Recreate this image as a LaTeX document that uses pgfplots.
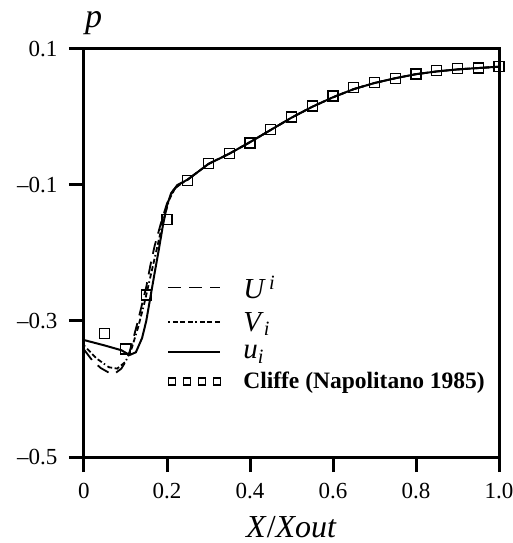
\documentclass[border=0pt]{standalone}
\usepackage{fontspec}
\setmainfont{Liberation Serif}
\usepackage{pgfplots}
\pgfplotsset{compat=1.18}
\begin{document}
\begin{tikzpicture}[x=1pt,y=1pt]
\useasboundingbox (-84,-86) rectangle (428,457);
\begin{axis}[at={(0,0)}, anchor=south west, scale only axis, width=415pt, height=408pt,
 xmin=0, xmax=1, ymin=-0.5, ymax=0.1,
 xtick={0,0.2,0.4,0.6,0.8,1}, xticklabels={0,0.2,0.4,0.6,0.8,1.0},
 ytick={-0.5,-0.3,-0.1,0.1}, yticklabels={–0.5,–0.3,–0.1,0.1},
 tick pos=left, tick align=outside, major tick length=15pt,
 axis line style={line width=3pt},
 every tick/.style={line width=3pt, black},
 ticklabel style={font=\fontsize{23}{26}\selectfont},
 xticklabel style={yshift=-8pt},
 yticklabel style={xshift=-8pt},
 xlabel={\textit{X}/\textit{Xout}},
 xlabel style={at={(axis description cs:0.5,0)}, anchor=base, yshift=-80pt, font=\fontsize{32}{38}\selectfont},
 clip=false,
 legend image code/.code={\draw[#1] (0pt,0pt) -- (52pt,0pt);},
 legend cell align=left,
 legend style={draw=none, fill=none, at={(0.193,0.455)}, anchor=north west,
   font=\fontsize{29}{32}\selectfont, row sep=8.5pt, column sep=20pt},
]
\addplot[black, line width=1.8pt, dash pattern=on 13pt off 8pt] coordinates {
(0,-0.342) (0.02,-0.358) (0.04,-0.369) (0.06,-0.376) (0.075,-0.377) (0.09,-0.370)
(0.10,-0.360) (0.11,-0.345) (0.12,-0.323) (0.13,-0.300) (0.14,-0.275) (0.15,-0.250)
(0.16,-0.218) (0.17,-0.190) (0.185,-0.157) (0.20,-0.127) (0.215,-0.108) (0.23,-0.099)
(0.25,-0.092) (0.30,-0.069) (0.35,-0.054) (0.40,-0.037) (0.45,-0.019) (0.50,-0.001)
(0.55,0.015) (0.60,0.029) (0.65,0.041) (0.70,0.050) (0.75,0.057) (0.80,0.063)
(0.85,0.067) (0.90,0.070) (0.95,0.072) (1.00,0.074)};
\addlegendentry{\textit{U}\textsuperscript{\,\textit{i}}}
\addplot[black, line width=1.8pt, dash pattern=on 1.5pt off 3pt on 5pt off 2.5pt on 5pt off 2.5pt on 5pt off 2.5pt] coordinates {
(0,-0.336) (0.03,-0.355) (0.06,-0.368) (0.08,-0.370) (0.10,-0.360) (0.115,-0.340)
(0.13,-0.310) (0.145,-0.275) (0.16,-0.235) (0.175,-0.195) (0.19,-0.155) (0.205,-0.122)
(0.22,-0.104) (0.25,-0.092) (0.30,-0.069) (0.35,-0.054) (0.40,-0.037) (0.45,-0.019)
(0.50,-0.001) (0.55,0.015) (0.60,0.029) (0.65,0.041) (0.70,0.050) (0.75,0.057)
(0.80,0.063) (0.85,0.067) (0.90,0.070) (0.95,0.072) (1.00,0.074)};
\addlegendentry{\textit{V}\textsubscript{\textit{i}}}
\addplot[black, line width=2pt] coordinates {
(0,-0.328) (0.05,-0.336) (0.09,-0.343) (0.11,-0.350) (0.125,-0.346) (0.14,-0.325)
(0.15,-0.300) (0.16,-0.265) (0.17,-0.230) (0.18,-0.196) (0.19,-0.160) (0.20,-0.130)
(0.21,-0.112) (0.225,-0.100) (0.25,-0.092) (0.30,-0.069) (0.35,-0.054) (0.40,-0.037)
(0.45,-0.019) (0.50,-0.001) (0.55,0.015) (0.60,0.029) (0.65,0.041) (0.70,0.050)
(0.75,0.057) (0.80,0.063) (0.85,0.067) (0.90,0.070) (0.95,0.072) (1.00,0.074)};
\addlegendentry{\textit{u}\textsubscript{\textit{i}}}
\addplot[only marks, mark=square, mark size=5pt, mark options={black, line width=1.4pt},
  legend image code/.code={\foreach \k in {0,1,2,3}{\draw[black, line width=1.3pt] (\k*15pt,-3.5pt) rectangle ++(7pt,7pt);}}] coordinates {
(0.05,-0.318) (0.10,-0.341) (0.15,-0.262) (0.20,-0.151) (0.25,-0.093) (0.30,-0.068)
(0.35,-0.054) (0.40,-0.038) (0.45,-0.018) (0.50,0.000) (0.55,0.016) (0.60,0.031)
(0.65,0.043) (0.70,0.051) (0.75,0.057) (0.80,0.063) (0.85,0.068) (0.90,0.071)
(0.95,0.072) (1.00,0.074)};
\addlegendentry{\fontsize{23.5}{26}\selectfont\bfseries Cliffe (Napolitano 1985)}
\node[anchor=base west, inner sep=0pt, font=\fontsize{34}{40}\selectfont\itshape]
  at ([xshift=1pt, yshift=21pt]axis description cs:0,1) {p};
\end{axis}
\end{tikzpicture}
\end{document}
